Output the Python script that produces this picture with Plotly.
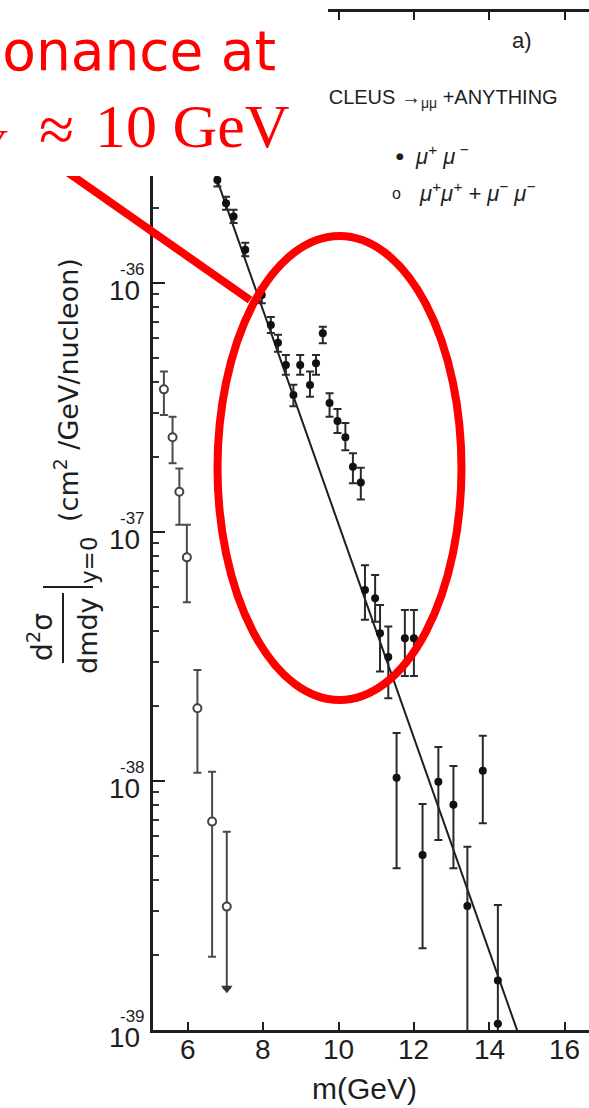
import numpy as np
import plotly.graph_objects as go

# ---------------------------------------------------------------------------
# d^2 sigma / dm dy |_(y=0)  [cm^2 / GeV / nucleon]  vs  dimuon mass m [GeV]
# ---------------------------------------------------------------------------

# opposite-sign pairs (mu+ mu-)
mass_os = [6.78, 7.01, 7.21, 7.52, 7.96, 8.20, 8.39, 8.60, 8.80, 8.98, 9.24, 9.40,
           9.58, 9.76, 9.97, 10.18, 10.38, 10.59, 10.70, 10.97, 11.10, 11.32, 11.54,
           11.76, 12.00, 12.23, 12.65, 13.05, 13.42, 13.83, 14.23, 14.23]
xsec_os = [2.59e-36, 2.09e-36, 1.85e-36, 1.36e-36, 8.95e-37, 6.78e-37, 5.75e-37,
           4.69e-37, 3.55e-37, 4.69e-37, 3.89e-37, 4.76e-37, 6.28e-37, 3.30e-37,
           2.79e-37, 2.40e-37, 1.83e-37, 1.58e-37, 5.85e-38, 5.42e-38, 3.92e-38,
           3.15e-38, 1.03e-38, 3.74e-38, 3.74e-38, 5.05e-39, 9.93e-39, 8.02e-39,
           3.15e-39, 1.10e-38, 1.58e-39, 1.06e-39]
xsec_os_hi = [2.75e-36, 2.22e-36, 1.97e-36, 1.45e-36, 9.60e-37, 7.30e-37, 6.20e-37,
              5.14e-37, 3.90e-37, 5.14e-37, 4.41e-37, 5.14e-37, 6.68e-37, 3.61e-37,
              3.12e-37, 2.74e-37, 2.07e-37, 1.81e-37, 7.36e-38, 6.72e-38, 5.09e-38,
              4.17e-38, 1.56e-38, 4.86e-38, 4.86e-38, 8.09e-39, 1.37e-38, 1.15e-38,
              5.44e-39, 1.52e-38, 3.18e-39, 1.06e-39]
xsec_os_lo = [2.44e-36, 1.97e-36, 1.74e-36, 1.28e-36, 8.30e-37, 6.30e-37, 5.30e-37,
              4.28e-37, 3.20e-37, 4.28e-37, 3.49e-37, 4.28e-37, 5.73e-37, 2.90e-37,
              2.50e-37, 2.13e-37, 1.57e-37, 1.35e-37, 4.44e-38, 4.36e-38, 2.75e-38,
              2.15e-38, 4.46e-39, 2.64e-38, 2.64e-38, 2.13e-39, 5.79e-39, 4.46e-39,
              0.0, 6.76e-39, 0.0, 1.06e-39]

# like-sign pairs (mu+ mu+ + mu- mu-)
mass_ls = [5.36, 5.59, 5.77, 5.97, 6.25, 6.64, 7.03]
xsec_ls = [3.74e-37, 2.40e-37, 1.45e-37, 7.91e-38, 1.96e-38, 6.87e-39, 3.13e-39]
xsec_ls_hi = [4.41e-37, 2.90e-37, 1.80e-37, 1.07e-37, 2.79e-38, 1.09e-38, 6.25e-39]
xsec_ls_lo = [2.95e-37, 1.89e-37, 1.07e-37, 5.22e-38, 1.08e-38, 1.97e-39, 1.47e-39]
limit_ls = [False, False, False, False, False, False, True]

# exponential continuum fit: A * exp(-m / m0)
fit_norm = 2.07e-33      # cm^2/GeV/nucleon
fit_scale = 1.0135       # GeV

# axis ticks
x_ticks = [6, 8, 10, 12, 14, 16]
x_tick_text = ["6", "8", "10", "12", "14", "16"]
y_ticks = [1e-39, 1e-38, 1e-37, 1e-36]
y_tick_exp = ["-39", "-38", "-37", "-36"]

# ---------------------------------------------------------------------------
W, H = 589, 1108
ML, MR, MT, MB = 153, 0, 12, 78
PW, PH = W - ML - MR, H - MT - MB
X_RANGE = [6 + (ML - 188) / 37.65, 6 + (W - 188) / 37.65]
Y_RANGE = [-39.0, -39.0 + PH / 249.0]


def px(x):
    """page pixel column -> paper x"""
    return (x - ML) / PW


def py(y):
    """page pixel row -> paper y"""
    return (H - MB - y) / PH


INK = "#1e1e1e"
RED = "#ff0000"
SCAN_FONT = "Liberation Sans"

fig = go.Figure()

m_fit = np.linspace(X_RANGE[0], 15.2, 200)
fig.add_trace(go.Scatter(
    x=m_fit, y=fit_norm * np.exp(-m_fit / fit_scale), mode="lines",
    line=dict(color=INK, width=2), hoverinfo="skip"))

os_v = np.array(xsec_os)
fig.add_trace(go.Scatter(
    x=mass_os, y=xsec_os, mode="markers",
    marker=dict(symbol="circle", size=8, color="#111111"),
    error_y=dict(type="data", symmetric=False,
                 array=np.array(xsec_os_hi) - os_v,
                 arrayminus=os_v - np.array(xsec_os_lo),
                 color="#2a2a2a", thickness=2, width=4)))

ls_v = np.array(xsec_ls)
fig.add_trace(go.Scatter(
    x=mass_ls, y=xsec_ls, mode="markers",
    marker=dict(symbol="circle", size=8, color="white",
                line=dict(color="#444444", width=2)),
    error_y=dict(type="data", symmetric=False,
                 array=np.array(xsec_ls_hi) - ls_v,
                 arrayminus=ls_v - np.array(xsec_ls_lo),
                 color="#4a4a4a", thickness=2, width=4)))

# arrow heads on the limit points
fig.add_trace(go.Scatter(
    x=[m for m, f in zip(mass_ls, limit_ls) if f],
    y=[v for v, f in zip(xsec_ls_lo, limit_ls) if f],
    mode="markers",
    marker=dict(symbol="triangle-down", size=10, color="#333333")))

shapes = [
    # fraction bar of the y title
    dict(type="line", xref="paper", yref="paper", x0=px(63), x1=px(63),
         y0=py(593), y1=py(663), line=dict(color=INK, width=2)),
    # evaluation bar  |_(y=0)
    dict(type="line", xref="paper", yref="paper", x0=px(43), x1=px(93),
         y0=py(587), y1=py(587), line=dict(color=INK, width=2)),
    # highlight around the excess
    dict(type="circle", xref="paper", yref="paper",
         x0=px(339.5 - 122), x1=px(339.5 + 122),
         y0=py(468 + 232), y1=py(468 - 232),
         line=dict(color=RED, width=8), layer="above"),
    # pointer from the caption to the ellipse
    dict(type="line", xref="paper", yref="paper",
         x0=px(50), y0=py(160), x1=px(250), y1=py(300),
         line=dict(color=RED, width=8), layer="above"),
]

ann = []
# x tick labels
for v, t in zip(x_ticks, x_tick_text):
    ann.append(dict(xref="x", yref="paper", x=v, y=py(1049), text=t,
                    showarrow=False, xanchor="center", yanchor="middle",
                    font=dict(family=SCAN_FONT, size=28, color=INK)))
# y tick labels  10^-n
for v, e in zip(y_ticks, y_tick_exp):
    ann.append(dict(xref="paper", yref="y", x=px(124), y=np.log10(v), yshift=-7,
                    text="10", showarrow=False, xanchor="center", yanchor="middle",
                    font=dict(family=SCAN_FONT, size=28, color=INK)))
    ann.append(dict(xref="paper", yref="y", x=px(132), y=np.log10(v), yshift=14,
                    text=e, showarrow=False, xanchor="center", yanchor="middle",
                    font=dict(family=SCAN_FONT, size=17, color=INK)))

# axis titles
ann.append(dict(xref="paper", yref="paper", x=px(364), y=py(1088),
                text="m(GeV)", showarrow=False, xanchor="center", yanchor="middle",
                font=dict(family=SCAN_FONT, size=30, color=INK)))
ann.append(dict(xref="paper", yref="paper", x=px(66), y=py(390), textangle=-90,
                text="(cm<sup>2</sup> /GeV/nucleon)", showarrow=False,
                xanchor="center", yanchor="middle",
                font=dict(family="DejaVu Sans", size=27, color=INK)))
ann.append(dict(xref="paper", yref="paper", x=px(41), y=py(637), textangle=-90,
                text="d<sup>2</sup>σ", showarrow=False, xanchor="center", yanchor="middle",
                font=dict(family="DejaVu Sans", size=28, color=INK)))
ann.append(dict(xref="paper", yref="paper", x=px(87), y=py(636), textangle=-90,
                text="dmdy", showarrow=False, xanchor="center", yanchor="middle",
                font=dict(family="DejaVu Sans", size=27, color=INK)))
ann.append(dict(xref="paper", yref="paper", x=px(89), y=py(560), textangle=-90,
                text="y=0", showarrow=False, xanchor="center", yanchor="middle",
                font=dict(family="DejaVu Sans", size=23, color=INK)))

# panel label and key
ann.append(dict(xref="paper", yref="paper", x=px(522), y=py(41), text="a)",
                showarrow=False, xanchor="center", yanchor="middle",
                font=dict(family=SCAN_FONT, size=22, color=INK)))
ann.append(dict(xref="paper", yref="paper", x=px(559), y=py(99),
                text="p+NUCLEUS →<sub>μμ</sub> +ANYTHING",
                showarrow=False, xanchor="right", yanchor="middle", borderpad=0,
                font=dict(family=SCAN_FONT, size=20, color=INK)))
ann.append(dict(xref="paper", yref="paper", x=px(400), y=py(156), text="●",
                showarrow=False, xanchor="center", yanchor="middle",
                font=dict(family="DejaVu Sans", size=9, color=INK)))
ann.append(dict(xref="paper", yref="paper", x=px(413), y=py(155),
                text="<i>μ<sup>+</sup> μ<sup> −</sup></i>",
                showarrow=False, xanchor="left", yanchor="middle",
                font=dict(family=SCAN_FONT, size=22, color=INK)))
ann.append(dict(xref="paper", yref="paper", x=px(396), y=py(193), text="o",
                showarrow=False, xanchor="center", yanchor="middle",
                font=dict(family=SCAN_FONT, size=16, color=INK)))
ann.append(dict(xref="paper", yref="paper", x=px(417), y=py(192),
                text="<i>μ<sup>+</sup>μ<sup>+</sup> + μ<sup>−</sup> μ<sup>−</sup></i>",
                showarrow=False, xanchor="left", yanchor="middle",
                font=dict(family=SCAN_FONT, size=22, color=INK)))

# caption panel (white) with the red caption on top of it
ann.append(dict(xref="paper", yref="paper", x=px(0), y=py(0),
                xanchor="left", yanchor="top", text="&nbsp;", showarrow=False,
                width=328, height=176, bgcolor="white", borderpad=0, borderwidth=0))
ann.append(dict(xref="paper", yref="paper", x=px(277), y=py(18),
                xanchor="right", yanchor="top", text="Resonance at",
                showarrow=False, borderpad=0,
                font=dict(family="DejaVu Sans", size=55, color=RED)))
ann.append(dict(xref="paper", yref="paper", x=px(10), y=py(91),
                xanchor="right", yanchor="top", text="m<sub>Υ</sub>",
                showarrow=False, borderpad=0,
                font=dict(family="Liberation Serif", size=62, color=RED)))
ann.append(dict(xref="paper", yref="paper", x=px(56), y=py(129),
                xanchor="center", yanchor="middle", text="≈",
                showarrow=False, borderpad=0,
                font=dict(family="Liberation Serif", size=64, color=RED)))
ann.append(dict(xref="paper", yref="paper", x=px(291), y=py(91),
                xanchor="right", yanchor="top", text="10 GeV",
                showarrow=False, borderpad=0,
                font=dict(family="Liberation Serif", size=62, color=RED)))

minor_y = [k * 10.0 ** e for e in range(-39, -35) for k in range(2, 10)]

fig.update_layout(
    width=W, height=H,
    margin=dict(l=ML, r=MR, t=MT, b=MB, pad=0),
    paper_bgcolor="white", plot_bgcolor="white",
    showlegend=False,
    shapes=shapes, annotations=ann,
    xaxis=dict(range=X_RANGE, tickvals=x_ticks, showticklabels=False,
               ticks="inside", ticklen=8, tickwidth=2, tickcolor=INK,
               showline=True, linewidth=3, linecolor=INK, mirror="ticks",
               showgrid=False, zeroline=False),
    yaxis=dict(type="log", range=Y_RANGE, tickvals=y_ticks, showticklabels=False,
               ticks="inside", ticklen=12, tickwidth=2, tickcolor=INK,
               minor=dict(tickvals=minor_y, ticks="inside", ticklen=6,
                          tickwidth=1.5, tickcolor="#333333"),
               showline=True, linewidth=3, linecolor=INK,
               showgrid=False, zeroline=False),
)

fig.write_html("out.html")
